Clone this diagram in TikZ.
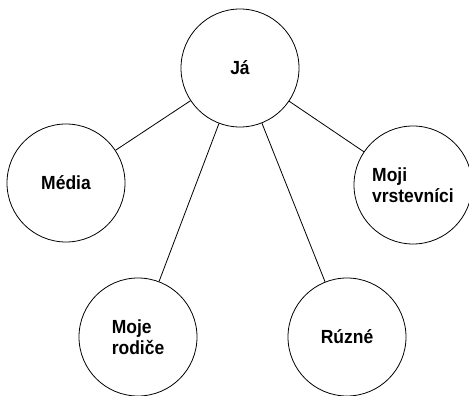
\documentclass[tikz,border=0pt]{standalone}
\usepackage{fontspec}
\setmainfont[FakeStretch=0.92]{Liberation Sans}
\usepackage{tikz}
\usetikzlibrary{positioning}

\begin{document}
\begin{tikzpicture}[
    x=1pt,y=1pt,
    topic/.style={draw,circle,line width=0.8pt,minimum size=118pt,inner sep=0pt,align=left,
      font=\bfseries\fontsize{19}{20.5}\selectfont},
    link/.style={line width=0.8pt},
  ]
    \useasboundingbox (0,0) rectangle (469,396);

    \node[topic] (ja) at (240,328) {J\'a};
    \node[topic] (media) at (66,213) {M\'edia};
    \node[topic] (vrstevnici) at (413,211) {Moji\\vrstevn\'ici};
    \node[topic] (rodice) at (138,59) {Moje\\rodi\v{c}e};
    \node[topic] (ruzne) at (347,59) {R\'uzn\'e};

    \draw[link] (ja) -- (media);
    \draw[link] (ja) -- (rodice);
    \draw[link] (ja) -- (ruzne);
    \draw[link] (ja) -- (vrstevnici);
  \end{tikzpicture}
\end{document}
